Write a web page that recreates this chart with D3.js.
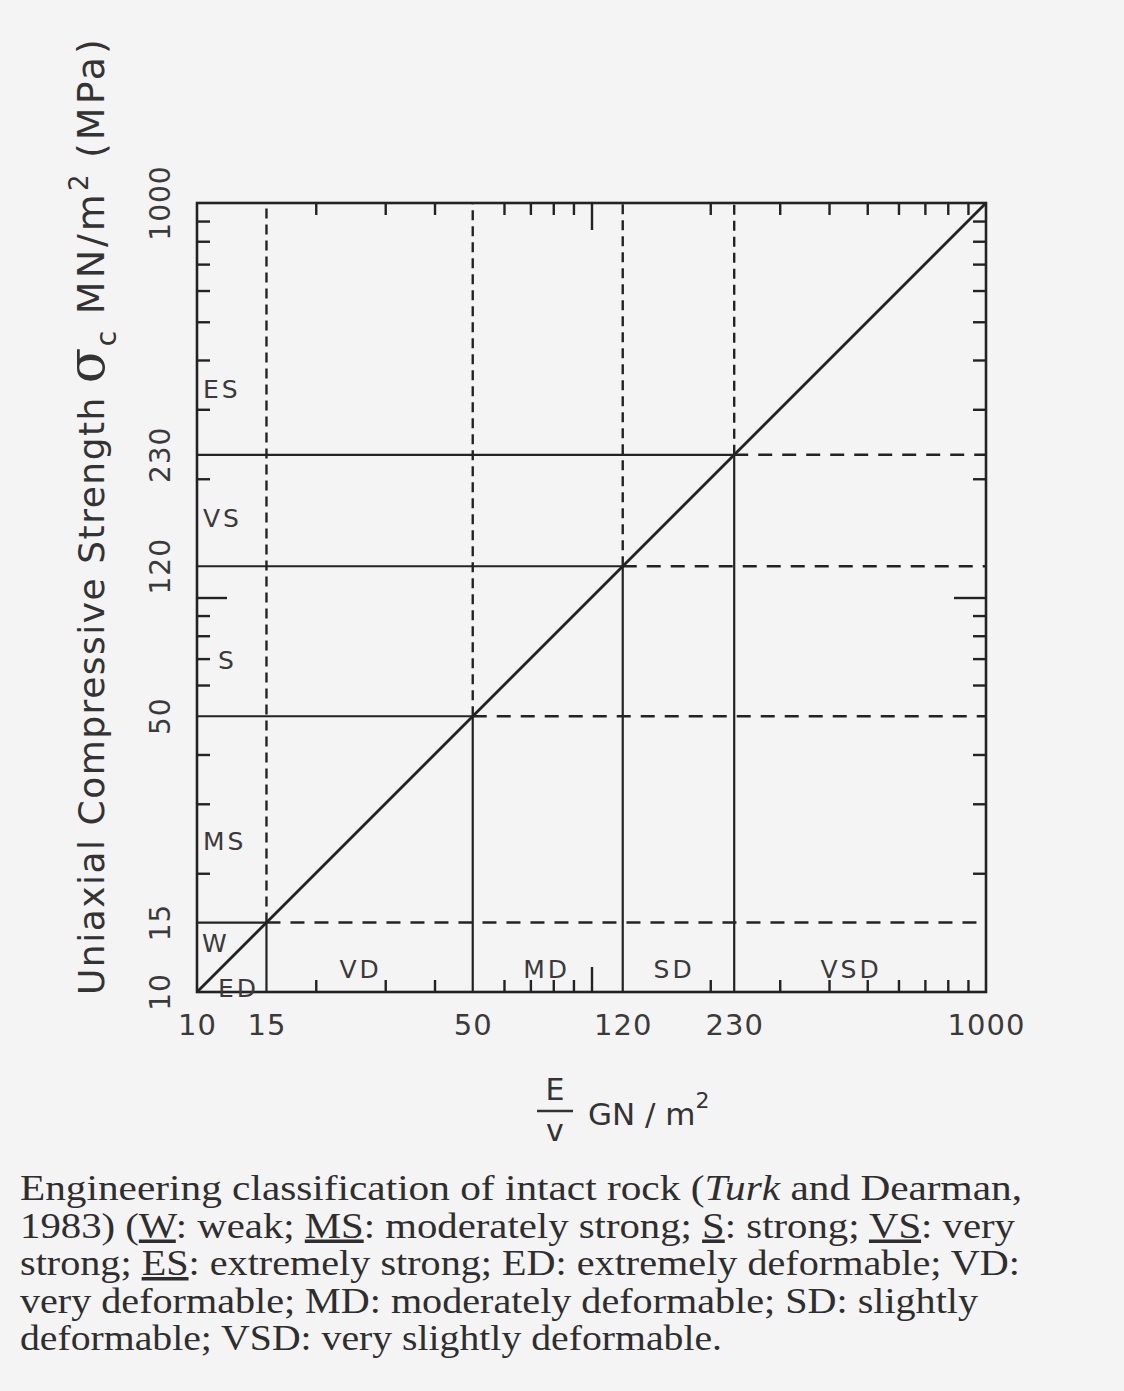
<!DOCTYPE html>
<html><head><meta charset="utf-8">
<script src="https://cdn.jsdelivr.net/npm/d3@7"></script>
<style>
html,body{margin:0;padding:0;background:#f5f4f4;}
svg{display:block;}
.cap{font-family:"Liberation Serif","Times New Roman",Times,serif;}
</style></head>
<body>
<script>
// ---- data ----
const domainMin = 10, domainMax = 1000;
const boundaries = [15, 50, 120, 230];          // class limits (both axes)
const xTickLabels = [10, 15, 50, 120, 230, 1000];
const yTickLabels = [10, 15, 50, 120, 230, 1000];
const minorTicks = [20,30,40,60,70,80,90,200,300,400,500,600,700,800,900];
const majorTicks = [100];
const diagonal = [[10,10],[1000,1000]];
// zone labels anchored at data coordinates (E/v, sigma_c)
const strengthLabels = [
  {t:"ES", x:10.35, y:340},
  {t:"VS", x:10.35, y:160},
  {t:"S",  x:11.3,  y:70},
  {t:"MS", x:10.35, y:24.3},
  {t:"W",  x:10.3,  y:13.4},
  {t:"ED", x:11.3,  y:10.3}
];
const deformLabels = [
  {t:"VD",  x:26,  y:11.5},
  {t:"MD",  x:77,  y:11.5},
  {t:"SD",  x:162, y:11.5},
  {t:"VSD", x:455, y:11.5}
];
const captionLines = [
  [["Engineering classification of intact rock (",""],["Turk","hand"],[" and Dearman,",""]],
  [["1983) (",""],["W","u"],[": weak; ",""],["MS","u"],[": moderately strong; ",""],["S","u"],[": strong; ",""],["VS","u"],[": very",""]],
  [["strong; ",""],["ES","u"],[": extremely strong; ED: extremely deformable; VD:",""]],
  [["very deformable; MD: moderately deformable; SD: slightly",""]],
  [["deformable; VSD: very slightly deformable.",""]]
];
const captionWidths = [1002, 995, 1000, 958, 702];

// ---- layout ----
const W = 1124, H = 1391;
const svg = d3.select("body").append("svg").attr("width", W).attr("height", H);
svg.append("rect").attr("width", W).attr("height", H).attr("fill", "#f5f4f4");

const x = d3.scaleLog().domain([domainMin, domainMax]).range([197, 986]);
const y = d3.scaleLog().domain([domainMin, domainMax]).range([992, 203]);
const ink = "#232323";
const sans = "'DejaVu Sans', sans-serif";

const g = svg.append("g");

// boundary lines
boundaries.forEach(b => {
  g.append("line").attr("x1", x(b)).attr("x2", x(b)).attr("y1", y(domainMin)).attr("y2", y(b))
    .attr("stroke", ink).attr("stroke-width", 2.2);
  g.append("line").attr("x1", x(b)).attr("x2", x(b)).attr("y1", y(b)).attr("y2", y(domainMax))
    .attr("stroke", ink).attr("stroke-width", 2.4).attr("stroke-dasharray", "10,6");
  g.append("line").attr("x1", x(domainMin)).attr("x2", x(b)).attr("y1", y(b)).attr("y2", y(b))
    .attr("stroke", ink).attr("stroke-width", 2.2);
  g.append("line").attr("x1", x(b)).attr("x2", x(domainMax)).attr("y1", y(b)).attr("y2", y(b))
    .attr("stroke", ink).attr("stroke-width", 2.4).attr("stroke-dasharray", "14,10");
});

// diagonal
g.append("path").datum(diagonal)
  .attr("d", d3.line().x(d => x(d[0])).y(d => y(d[1])))
  .attr("stroke", ink).attr("stroke-width", 2.8).attr("fill", "none");

// ticks (inward) via d3 axes
function tickAxis(gen, tx, ty, vals, size) {
  const a = svg.append("g").attr("transform", `translate(${tx},${ty})`)
    .call(gen.tickValues(vals).tickSize(size).tickFormat(""));
  a.select(".domain").remove();
  a.selectAll("line").attr("stroke", ink).attr("stroke-width", 2.4);
}
tickAxis(d3.axisBottom(x), 0, y(domainMin), minorTicks, -12);
tickAxis(d3.axisBottom(x), 0, y(domainMin), majorTicks, -25);
tickAxis(d3.axisTop(x), 0, y(domainMax), minorTicks, -12);
tickAxis(d3.axisTop(x), 0, y(domainMax), majorTicks, -27);
tickAxis(d3.axisLeft(y), x(domainMin), 0, minorTicks, -13);
tickAxis(d3.axisLeft(y), x(domainMin), 0, majorTicks, -30);
tickAxis(d3.axisRight(y), x(domainMax), 0, minorTicks, -13);
tickAxis(d3.axisRight(y), x(domainMax), 0, majorTicks, -32);

// frame
svg.append("rect").attr("x", x(domainMin)).attr("y", y(domainMax))
  .attr("width", x(domainMax) - x(domainMin)).attr("height", y(domainMin) - y(domainMax))
  .attr("fill", "none").attr("stroke", ink).attr("stroke-width", 2.6);

// x tick labels
const xl = svg.append("g").attr("transform", `translate(0,${y(domainMin)})`)
  .call(d3.axisBottom(x).tickValues(xTickLabels).tickSize(0).tickPadding(22).tickFormat(d3.format("d")));
xl.select(".domain").remove();
xl.selectAll("text").attr("font-family", sans).attr("font-size", 29).attr("fill", "#3a3a3a")
  .attr("letter-spacing", 1);

// y tick labels (rotated)
yTickLabels.forEach(v => {
  svg.append("text").attr("transform", `translate(170,${y(v)}) rotate(-90)`)
    .attr("text-anchor", "middle").attr("font-family", sans).attr("font-size", 28)
    .attr("fill", "#3a3a3a").attr("letter-spacing", 1).text(d3.format("d")(v));
});

// zone labels
strengthLabels.forEach(d => {
  svg.append("text").attr("x", x(d.x)).attr("y", y(d.y) + 10)
    .attr("font-family", sans).attr("font-size", 25).attr("fill", "#3a3a3a")
    .attr("letter-spacing", 3).text(d.t);
});
deformLabels.forEach(d => {
  svg.append("text").attr("x", x(d.x)).attr("y", y(d.y) + 10)
    .attr("text-anchor", "middle")
    .attr("font-family", sans).attr("font-size", 25).attr("fill", "#3a3a3a")
    .attr("letter-spacing", 3).text(d.t);
});

// y axis title
const yt = svg.append("text").attr("transform", "translate(104,995) rotate(-90)")
  .attr("font-family", sans).attr("font-size", 36).attr("fill", "#333").attr("letter-spacing", 1.5);
yt.append("tspan").text("Uniaxial Compressive Strength ");
yt.append("tspan").attr("font-size", 52).attr("font-family", "'DejaVu Serif', serif").text("σ");
yt.append("tspan").attr("font-size", 28).attr("dy", 12).text("c");
yt.append("tspan").attr("dy", -12).attr("font-size", 38).attr("letter-spacing", 3).text(" MN/m");
yt.append("tspan").attr("font-size", 26).attr("dy", -16).text("2");
yt.append("tspan").attr("dy", 16).attr("font-size", 38).attr("letter-spacing", 3).text(" (MPa)");

// x axis title
const xt = svg.append("g");
xt.append("text").attr("x", 555).attr("y", 1100).attr("text-anchor", "middle")
  .attr("font-family", sans).attr("font-size", 30).attr("fill", "#333").text("E");
xt.append("line").attr("x1", 537).attr("x2", 573).attr("y1", 1111).attr("y2", 1111)
  .attr("stroke", "#333").attr("stroke-width", 2.5);
xt.append("text").attr("x", 555).attr("y", 1141).attr("text-anchor", "middle")
  .attr("font-family", sans).attr("font-size", 30).attr("fill", "#333").text("v");
const xt2 = xt.append("text").attr("x", 588).attr("y", 1125)
  .attr("font-family", sans).attr("font-size", 31).attr("fill", "#333");
xt2.append("tspan").text("GN / m");
xt2.append("tspan").attr("font-size", 22).attr("dy", -17).text("2");

// caption
captionLines.forEach((parts, i) => {
  const t = svg.append("text").attr("class", "cap").attr("x", 20).attr("y", 1200 + i * 37.5)
    .attr("font-size", 35).attr("fill", "#2e2e2e")
    .attr("textLength", captionWidths[i]).attr("lengthAdjust", "spacingAndGlyphs");
  parts.forEach(([s, k]) => {
    const ts = t.append("tspan").text(s);
    if (k === "u") ts.attr("text-decoration", "underline");
    if (k === "hand") ts.attr("font-style", "italic");
  });
});
</script>
</body></html>
